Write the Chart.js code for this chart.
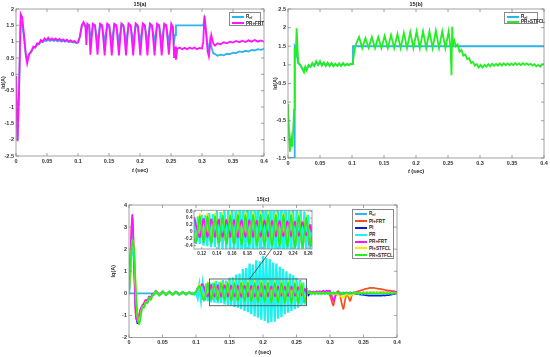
<!DOCTYPE html>
<html>
<head>
<meta charset="utf-8">
<script src="https://cdn.jsdelivr.net/npm/chart.js@4.4.1/dist/chart.umd.min.js"></script>
<style>
  html, body { margin: 0; padding: 0; background: #fff; }
  body { position: relative; width: 550px; height: 357px; overflow: hidden; font-family: "Liberation Sans", Arial, sans-serif; }
  canvas { position: absolute; }
  .txt { position: absolute; transform: translate(-50%, -50%); font-size: 5.5px; font-weight: bold; color: #222; white-space: nowrap; }
  .leg { position: absolute; background: #fff; border: 0.8px solid #8a8a8a; box-sizing: border-box; font-size: 4.6px; font-weight: bold; color: #222; padding-top: 1px; }
  .leg .row { display: flex; align-items: center; white-space: nowrap; }
  .leg .ln { display: inline-block; width: 12px; height: 2px; margin: 0 2px; flex: none; }
  .leg sub { font-size: 3.4px; vertical-align: -1px; }
</style>
</head>
<body>
<canvas id="chartA" width="272" height="178" style="left:0;top:0"></canvas>
<canvas id="chartB" width="278" height="178" style="left:272px;top:0"></canvas>
<canvas id="chartC" width="300" height="167" style="left:110px;top:190px"></canvas>
<canvas id="chartInset" width="140" height="54" style="left:176px;top:206px"></canvas>

<div class="txt" style="left:140px;top:4px">15(a)</div>
<div class="txt" style="left:416px;top:4px">15(b)</div>
<div class="txt" style="left:263px;top:199px">15(c)</div>
<div class="txt" style="left:140px;top:170px"><i>t</i> (sec)</div>
<div class="txt" style="left:416px;top:171px"><i>t</i> (sec)</div>
<div class="txt" style="left:263px;top:352px"><i>t</i> (sec)</div>

<div class="leg" id="legA" style="left:229px;top:12px;width:32px;height:14px"></div>
<div class="leg" id="legB" style="left:504px;top:12px;width:34px;height:12px"></div>
<div class="leg" id="legC" style="left:352px;top:209px;width:42px;height:50px"></div>

<script>
// ---- 15(a): PR+FRT against reference ----
const aTime = [
  0,0.0025,0.005,0.0075,0.01,0.013,0.016,0.018,0.021,0.025,
  0.028,0.031,0.034,0.037,0.04,0.043,0.046,0.049,0.052,0.055,
  0.058,0.061,0.064,0.067,0.07,0.073,0.076,0.079,0.082,0.085,
  0.088,0.091,0.094,0.097,0.1,0.103,0.106,0.109,0.112,0.1135,
  0.115,0.118,0.12,0.124,0.1275,0.1315,0.1355,0.139,0.143,0.147,
  0.1505,0.1545,0.1585,0.162,0.166,0.17,0.1735,0.1775,0.1815,0.185,
  0.189,0.193,0.1965,0.2005,0.2045,0.208,0.212,0.216,0.2195,0.2235,
  0.2275,0.231,0.235,0.239,0.2425,0.2465,0.2505,0.253,0.255,0.2565,
  0.258,0.26,0.264,0.268,0.272,0.276,0.28,0.284,0.288,0.292,
  0.296,0.3,0.302,0.304,0.3065,0.309,0.311,0.313,0.315,0.318,
  0.321,0.325,0.33,0.335,0.34,0.345,0.35,0.355,0.36,0.365,
  0.37,0.375,0.38,0.385,0.39,0.395,0.4
];
const aPrFrt = [
  -0.05,-2.05,-0.4,1.85,1.75,1.2,0.55,0.33,0.6,0.72,
  0.85,0.82,0.95,0.93,1.05,1.0,1.1,1.05,1.12,1.05,
  1.1,1.05,1.1,1.04,1.09,1.03,1.07,1.02,1.06,1.01,
  1.04,1.0,1.02,0.97,0.98,1.15,1.5,1.6,1.45,0.9,
  1.55,1.5,0.6,1.55,1.5,0.6,1.55,1.5,0.58,1.55,
  1.5,0.58,1.55,1.5,0.58,1.56,1.5,0.58,1.56,1.5,
  0.58,1.56,1.5,0.58,1.56,1.5,0.58,1.56,1.5,0.58,
  1.55,1.5,0.58,1.55,1.5,0.6,1.55,1.45,0.5,0.85,
  0.45,0.78,0.82,0.77,0.81,0.77,0.82,0.78,0.82,0.77,
  0.81,0.79,1.0,1.8,1.3,0.7,0.55,0.9,1.2,0.95,
  0.88,0.95,0.92,0.98,0.95,1.0,0.97,1.02,0.98,1.03,
  0.99,1.04,1.0,1.05,1.0,1.04,1.0
];
const aRef = [
  -0.05,-2.0,-0.5,1.6,1.55,1.1,0.6,0.5,0.62,0.7,
  0.8,0.82,0.9,0.92,1.0,0.98,1.04,1.02,1.06,1.02,
  1.05,1.02,1.05,1.01,1.05,1.0,1.03,1.0,1.02,0.99,
  1.0,0.98,0.99,0.96,0.97,1.15,1.45,1.55,1.5,1.3,
  1.5,1.5,1.05,1.5,1.45,1.0,1.5,1.45,1.0,1.5,
  1.45,1.0,1.5,1.45,1.0,1.5,1.45,1.0,1.5,1.45,
  1.0,1.5,1.45,1.0,1.5,1.45,1.0,1.5,1.45,1.0,
  1.5,1.45,1.0,1.5,1.45,1.0,1.5,1.45,1.0,1.2,
  1.5,1.5,1.5,1.5,1.5,1.5,1.5,1.5,1.5,1.5,
  1.5,1.5,1.5,1.7,1.3,0.9,0.7,1.05,0.85,0.65,
  0.62,0.57,0.6,0.58,0.63,0.62,0.66,0.65,0.7,0.68,
  0.72,0.7,0.75,0.73,0.77,0.75,0.78
];

// ---- 15(b): PR+STFCL against reference ----
const bTime = [
  0,0.002,0.003,0.005,0.007,0.0095,0.0105,0.012,0.0135,0.016,
  0.019,0.022,0.025,0.027,0.029,0.032,0.035,0.038,0.041,0.044,
  0.047,0.05,0.053,0.056,0.059,0.062,0.065,0.068,0.071,0.074,
  0.077,0.08,0.083,0.086,0.089,0.092,0.095,0.098,0.1,0.1015,
  0.105,0.111,0.116,0.121,0.126,0.131,0.136,0.141,0.146,0.151,
  0.156,0.161,0.166,0.171,0.176,0.181,0.186,0.191,0.196,0.201,
  0.206,0.211,0.216,0.221,0.226,0.231,0.236,0.241,0.246,0.251,
  0.254,0.2555,0.2565,0.258,0.26,0.262,0.265,0.268,0.271,0.274,
  0.277,0.28,0.283,0.286,0.289,0.292,0.295,0.298,0.301,0.304,
  0.307,0.31,0.313,0.316,0.319,0.322,0.325,0.328,0.331,0.334,
  0.337,0.34,0.343,0.346,0.349,0.352,0.355,0.358,0.361,0.364,
  0.367,0.37,0.373,0.376,0.379,0.382,0.385,0.388,0.391,0.394,
  0.397,0.4
];
const bPrStfcl = [
  -0.05,-1.0,-1.33,-0.95,-1.2,-0.2,1.45,1.2,1.98,1.05,
  1.0,0.9,0.8,0.95,0.85,1.0,0.95,1.05,0.97,1.1,
  1.0,1.1,0.98,1.07,0.97,1.06,0.97,1.05,0.96,1.03,
  0.97,1.04,0.97,1.05,0.98,1.03,0.99,1.03,1.02,1.1,
  1.5,1.75,1.45,1.72,1.46,1.75,1.45,1.75,1.45,1.78,
  1.45,1.8,1.45,1.83,1.45,1.86,1.45,1.88,1.45,1.9,
  1.45,1.9,1.45,1.9,1.45,1.92,1.45,1.9,1.45,1.9,
  1.45,0.72,2.02,1.55,1.65,1.5,1.55,1.35,1.4,1.25,
  1.28,1.15,1.18,1.05,1.08,0.98,1.02,0.93,1.0,0.93,
  1.0,0.95,1.02,0.96,1.03,0.97,1.03,0.98,1.04,0.98,
  1.04,0.99,1.04,0.99,1.04,0.99,1.05,1.0,1.04,0.99,
  1.05,1.0,1.04,1.0,1.03,0.98,1.02,0.96,1.0,0.95,
  1.02,1.02
];
const bRefTime = [
  0,0.0095,0.0105,0.012,0.0135,0.016,0.019,0.022,0.025,0.027,
  0.029,0.032,0.035,0.038,0.041,0.044,0.047,0.05,0.053,0.056,
  0.059,0.062,0.065,0.068,0.071,0.074,0.077,0.08,0.083,0.086,
  0.089,0.092,0.095,0.098,0.1,0.1015,0.4
];
const bRef = [
  -1.5,-1.5,1.5,1.45,1.3,1.05,1.0,0.92,0.85,0.93,
  0.88,0.98,0.95,1.02,0.98,1.07,1.0,1.07,1.0,1.05,
  0.98,1.04,0.98,1.03,0.98,1.02,0.98,1.02,0.98,1.03,
  0.99,1.02,1.0,1.02,1.02,1.5,1.5
];

// ---- 15(c): all controllers, sampled every 2.5 ms ----
const tC = [
  0,0.0025,0.005,0.0075,0.01,0.0125,0.015,0.0175,0.02,0.0225,0.025,0.0275,0.03,0.0325,0.035,0.0375,0.04,0.0425,0.045,0.0475,
  0.05,0.0525,0.055,0.0575,0.06,0.0625,0.065,0.0675,0.07,0.0725,0.075,0.0775,0.08,0.0825,0.085,0.0875,0.09,0.0925,0.095,0.0975,
  0.1,0.1025,0.105,0.1075,0.11,0.1125,0.115,0.1175,0.12,0.1225,0.125,0.1275,0.13,0.1325,0.135,0.1375,0.14,0.1425,0.145,0.1475,
  0.15,0.1525,0.155,0.1575,0.16,0.1625,0.165,0.1675,0.17,0.1725,0.175,0.1775,0.18,0.1825,0.185,0.1875,0.19,0.1925,0.195,0.1975,
  0.2,0.2025,0.205,0.2075,0.21,0.2125,0.215,0.2175,0.22,0.2225,0.225,0.2275,0.23,0.2325,0.235,0.2375,0.24,0.2425,0.245,0.2475,
  0.25,0.2525,0.255,0.2575,0.26,0.2625,0.265,0.2675,0.27,0.2725,0.275,0.2775,0.28,0.2825,0.285,0.2875,0.29,0.2925,0.295,0.2975,
  0.3,0.3025,0.305,0.3075,0.31,0.3125,0.315,0.3175,0.32,0.3225,0.325,0.3275,0.33,0.3325,0.335,0.3375,0.34,0.3425,0.345,0.3475,
  0.35,0.3525,0.355,0.3575,0.36,0.3625,0.365,0.3675,0.37,0.3725,0.375,0.3775,0.38,0.3825,0.385,0.3875,0.39,0.3925,0.395,0.3975,
  0.4
];
const cRefTime = [0, 0.4];
const cRef = [0, 0];
const cPiFrt = [
  0,1.9,3.4,1.4,-0.9,-1.25,-1.0,-0.7,-0.55,-0.45,-0.3,-0.35,-0.15,-0.2,-0.05,-0.03,0.1,0.02,-0.07,-0.02,
  0.08,0.02,-0.06,0.0,0.07,0.02,-0.05,0.0,0.06,0.02,-0.05,0.0,0.05,0.02,-0.04,0.0,0.05,0.01,-0.03,0.01,
  0.06,0.24,0.28,0.33,0.4,0.18,0.0,-0.14,0.1,0.36,0.14,-0.14,0.1,0.35,0.12,-0.14,0.1,0.35,0.12,-0.14,
  0.1,0.34,0.12,-0.14,0.1,0.34,0.12,-0.15,0.1,0.33,0.12,-0.14,0.1,0.33,0.12,-0.14,0.1,0.32,0.11,-0.13,
  0.1,0.32,0.11,-0.13,0.1,0.31,0.11,-0.13,0.1,0.31,0.11,-0.12,0.09,0.3,0.1,-0.12,0.09,0.29,0.1,-0.11,
  0.09,0.27,0.1,-0.1,0.05,0.18,0.0,0.05,0.1,0.02,0.08,0.0,0.06,0.0,0.05,-0.02,0.04,0.0,0.03,0.0,
  -0.1,-0.35,-0.55,-0.2,0.05,0.1,-0.1,-0.45,-0.7,-0.3,-0.05,-0.15,-0.35,-0.1,0.02,0.05,0.08,0.1,0.12,0.15,
  0.17,0.2,0.21,0.23,0.25,0.24,0.25,0.23,0.22,0.2,0.2,0.18,0.17,0.15,0.14,0.12,0.12,0.1,0.1,0.08,
  0.07
];
const cPi = [
  0,1.3,2.3,1.6,-0.6,-1.35,-1.1,-0.8,-0.6,-0.5,-0.35,-0.35,-0.18,-0.2,-0.05,-0.04,0.09,0.01,-0.08,-0.02,
  0.08,0.01,-0.07,0.0,0.07,0.01,-0.06,0.0,0.06,0.01,-0.05,0.0,0.05,0.0,-0.05,0.0,0.05,0.0,-0.04,0.0,
  0.05,0.2,0.33,0.1,-0.2,-0.32,0.05,0.44,0.08,-0.32,0.05,0.44,0.07,-0.34,0.05,0.45,0.07,-0.35,0.05,0.46,
  0.07,-0.36,0.05,0.47,0.07,-0.37,0.05,0.48,0.07,-0.38,0.05,0.48,0.06,-0.4,0.05,0.48,0.06,-0.41,0.05,0.48,
  0.06,-0.42,0.05,0.48,0.05,-0.43,0.04,0.48,0.05,-0.44,0.04,0.48,0.04,-0.45,0.03,0.48,0.04,-0.46,0.03,0.46,
  0.03,-0.47,0.0,0.45,-0.1,-0.45,0.2,-0.1,0.03,-0.02,0.03,-0.02,0.02,-0.02,0.02,-0.02,0.02,-0.02,0.02,-0.02,
  0.02,-0.02,0.01,-0.02,0.01,-0.02,0.01,-0.02,0.01,-0.02,0.0,-0.02,0.0,-0.02,0.0,-0.03,-0.03,-0.04,-0.05,-0.06,
  -0.07,-0.08,-0.09,-0.1,-0.1,-0.11,-0.1,-0.11,-0.1,-0.11,-0.1,-0.1,-0.09,-0.1,-0.08,-0.08,-0.06,-0.05,-0.03,-0.02,
  0.0
];
const cPr = [
  0,1.3,2.3,1.7,-0.3,-1.2,-1.2,-0.9,-0.6,-0.55,-0.35,-0.4,-0.2,-0.25,-0.08,-0.05,0.1,0.0,-0.09,-0.02,
  0.09,0.01,-0.07,0.0,0.08,0.01,-0.06,0.0,0.07,0.01,-0.06,0.0,0.06,0.0,-0.05,0.0,0.06,-0.02,0.02,-0.05,
  0.08,-0.2,0.35,-0.3,0.4,-0.35,0.45,-0.35,0.5,-0.4,0.48,-0.42,0.55,-0.45,0.52,-0.45,0.6,-0.5,0.58,-0.52,
  0.7,-0.55,0.72,-0.62,0.85,-0.65,0.9,-0.72,1.1,-0.8,1.15,-0.85,1.35,-0.95,1.3,-1.05,1.5,-1.1,1.45,-1.2,
  1.7,-1.25,1.6,-1.35,1.55,-1.3,1.4,-1.28,1.35,-1.15,1.2,-1.08,1.1,-0.95,1.0,-0.88,0.9,-0.8,0.82,-0.72,
  0.7,-0.65,0.6,-0.55,0.5,-0.5,0.2,0.05,0.06,-0.03,0.05,-0.03,0.05,-0.02,0.04,-0.03,0.04,-0.02,0.04,-0.02,
  0.03,-0.02,0.03,-0.02,0.03,-0.02,0.03,-0.02,0.03,-0.02,0.03,-0.02,0.03,-0.02,0.03,-0.02,0.02,-0.02,0.02,-0.01,
  0.02,-0.01,0.02,-0.01,0.02,-0.01,0.02,-0.01,0.02,-0.01,0.02,-0.01,0.02,-0.01,0.02,-0.01,0.02,-0.01,0.02,0.0,
  0.01
];
const cPrFrt = [
  0,2.0,3.55,1.5,-0.9,-1.25,-1.0,-0.7,-0.55,-0.45,-0.3,-0.35,-0.15,-0.2,-0.05,-0.03,0.1,0.02,-0.07,-0.02,
  0.08,0.02,-0.06,0.0,0.07,0.02,-0.05,0.0,0.06,0.02,-0.05,0.0,0.05,0.02,-0.04,0.0,0.05,0.01,-0.03,0.01,
  0.06,0.25,0.3,0.35,0.42,0.2,0.0,-0.15,0.1,0.38,0.15,-0.15,0.1,0.37,0.12,-0.15,0.1,0.36,0.12,-0.15,
  0.1,0.35,0.12,-0.15,0.1,0.35,0.12,-0.16,0.1,0.34,0.12,-0.15,0.1,0.34,0.12,-0.15,0.1,0.33,0.11,-0.14,
  0.1,0.33,0.11,-0.14,0.1,0.32,0.11,-0.14,0.1,0.32,0.11,-0.13,0.09,0.31,0.1,-0.13,0.09,0.3,0.1,-0.12,
  0.09,0.28,0.1,-0.1,0.05,0.2,0.0,0.05,0.08,0.03,0.08,0.04,0.1,0.05,0.1,0.05,0.12,0.08,0.12,0.1,
  0.12,-0.1,-0.35,-0.15,0.0,0.03,0.0,-0.05,0.0,0.02,0.03,0.0,0.03,0.01,0.03,0.01,0.03,0.02,0.03,0.02,
  0.04,0.02,0.04,0.03,0.04,0.03,0.05,0.03,0.05,0.03,0.05,0.04,0.05,0.04,0.05,0.04,0.05,0.04,0.05,0.04,
  0.05
];
const cPiStfcl = [
  0,1.4,2.4,2.0,0.2,-1.0,-1.35,-1.0,-0.6,-0.6,-0.4,-0.42,-0.2,-0.28,-0.1,-0.05,0.09,0.0,-0.09,-0.03,
  0.08,0.01,-0.07,-0.01,0.07,0.01,-0.06,0.0,0.06,0.01,-0.05,0.0,0.05,0.01,-0.05,0.0,0.05,0.0,-0.04,0.0,
  0.05,0.22,0.4,0.1,-0.18,-0.28,0.05,0.52,0.08,-0.28,0.05,0.53,0.07,-0.3,0.05,0.54,0.07,-0.31,0.05,0.55,
  0.07,-0.33,0.05,0.56,0.07,-0.34,0.05,0.57,0.07,-0.35,0.05,0.58,0.06,-0.36,0.05,0.58,0.06,-0.37,0.05,0.58,
  0.06,-0.38,0.05,0.58,0.05,-0.4,0.04,0.58,0.05,-0.4,0.04,0.57,0.04,-0.42,0.03,0.57,0.04,-0.43,0.03,0.55,
  0.03,-0.43,0.0,0.5,0.0,-0.38,-0.1,0.03,0.04,-0.02,0.03,-0.03,0.04,-0.02,0.03,-0.03,0.03,-0.02,0.02,-0.02,
  0.02,-0.03,0.0,-0.05,-0.02,-0.08,-0.15,-0.1,-0.2,-0.1,-0.05,-0.08,-0.15,-0.06,-0.02,0.0,0.02,0.01,0.03,0.02,
  0.03,0.04,0.04,0.05,0.05,0.05,0.05,0.04,0.05,0.04,0.04,0.03,0.04,0.03,0.03,0.02,0.03,0.02,0.02,0.02,
  0.02
];
const cPrStfcl = [
  0,1.4,2.4,2.0,0.3,-1.0,-1.4,-1.05,-0.6,-0.65,-0.4,-0.45,-0.2,-0.3,-0.1,-0.05,0.1,0.0,-0.1,-0.03,
  0.09,0.01,-0.08,-0.01,0.08,0.01,-0.07,0.0,0.07,0.01,-0.06,0.0,0.06,0.01,-0.05,0.0,0.05,0.0,-0.05,0.0,
  0.05,0.2,0.35,0.1,-0.2,-0.3,0.05,0.45,0.08,-0.3,0.05,0.45,0.07,-0.32,0.05,0.46,0.07,-0.33,0.05,0.47,
  0.07,-0.35,0.05,0.48,0.07,-0.36,0.05,0.5,0.07,-0.37,0.05,0.5,0.06,-0.38,0.05,0.5,0.06,-0.4,0.05,0.5,
  0.06,-0.4,0.05,0.5,0.05,-0.42,0.04,0.5,0.05,-0.42,0.04,0.5,0.04,-0.44,0.03,0.5,0.04,-0.45,0.03,0.47,
  0.03,-0.45,0.0,0.42,0.0,-0.4,-0.1,0.05,0.06,-0.02,0.04,-0.03,0.05,-0.02,0.04,-0.03,0.04,-0.02,0.03,-0.02,
  0.04,-0.02,0.03,-0.03,0.04,-0.02,0.03,-0.03,0.03,-0.02,0.03,-0.02,0.03,-0.02,0.03,-0.02,0.03,-0.01,0.03,-0.01,
  0.03,-0.01,0.03,-0.01,0.03,-0.02,0.03,-0.01,0.02,-0.01,0.03,-0.01,0.02,-0.01,0.02,-0.01,0.02,-0.01,0.02,0.0,
  0.01
];
const cNames = ['Ref', 'PI+FRT', 'PI', 'PR', 'PR+FRT', 'PI+STFCL', 'PR+STFCL'];

// zoom window drawn on 15(c) and its leader line to the inset
const zoomT = [0.12, 0.265];
const zoomI = [-0.56, 0.65];
const linkT = [0.18, 0.213];
const linkI = [0.65, 2.0];
const insetTicksX = [0.12, 0.14, 0.16, 0.18, 0.2, 0.22, 0.24, 0.26];
const insetTicksY = [-0.4, -0.2, 0, 0.2, 0.4, 0.6];

// colours
const REF = '#2db4ea';
const cColors = [REF, '#f4511e', '#1414e6', '#1ef0f0', '#ff14ff', '#f0f000', '#22ee22'];

const fmt = v => String(Math.round(v * 1000) / 1000);
const tickFont = { family: 'Liberation Sans', size: 5.5, weight: 'bold' };

function pts(t, v) {
    return t.map((x, i) => ({ x: x, y: v[i] }));
}

// box round the plot area, with inward tick marks on all four sides
const frame = {
    id: 'frame',
    beforeDraw(chart, args, opts) {
        if (!opts.fill) return;
        const a = chart.chartArea;
        chart.ctx.save();
        chart.ctx.fillStyle = '#fff';
        chart.ctx.fillRect(a.left, a.top, a.right - a.left, a.bottom - a.top);
        chart.ctx.restore();
    },
    afterDatasetsDraw(chart, args, opts) {
        const { ctx, chartArea: a, scales } = chart;
        const len = opts.len || 3;
        ctx.save();
        ctx.strokeStyle = '#8a8a8a';
        ctx.lineWidth = 0.8;
        ctx.strokeRect(a.left, a.top, a.right - a.left, a.bottom - a.top);
        ctx.beginPath();
        scales.x.ticks.forEach(tk => {
            const px = scales.x.getPixelForValue(tk.value);
            ctx.moveTo(px, a.bottom); ctx.lineTo(px, a.bottom - len);
            ctx.moveTo(px, a.top); ctx.lineTo(px, a.top + len);
        });
        scales.y.ticks.forEach(tk => {
            const py = scales.y.getPixelForValue(tk.value);
            ctx.moveTo(a.left, py); ctx.lineTo(a.left + len, py);
            ctx.moveTo(a.right, py); ctx.lineTo(a.right - len, py);
        });
        ctx.stroke();
        ctx.restore();
    }
};

// rectangle marking the zoomed window, plus the line to the inset
const zoomBox = {
    id: 'zoomBox',
    afterDatasetsDraw(chart) {
        const { ctx, scales } = chart;
        const x0 = scales.x.getPixelForValue(zoomT[0]);
        const x1 = scales.x.getPixelForValue(zoomT[1]);
        const y0 = scales.y.getPixelForValue(zoomI[1]);
        const y1 = scales.y.getPixelForValue(zoomI[0]);
        ctx.save();
        ctx.strokeStyle = '#555';
        ctx.lineWidth = 0.9;
        ctx.strokeRect(x0, y0, x1 - x0, y1 - y0);
        ctx.strokeStyle = '#222';
        ctx.lineWidth = 0.7;
        ctx.beginPath();
        ctx.moveTo(scales.x.getPixelForValue(linkT[0]), scales.y.getPixelForValue(linkI[0]));
        ctx.lineTo(scales.x.getPixelForValue(linkT[1]), scales.y.getPixelForValue(linkI[1]));
        ctx.stroke();
        ctx.restore();
    }
};

function axis(min, max, step, fitKey, fitSize, font) {
    const a = {
        type: 'linear',
        min: min,
        max: max,
        grid: { display: false, drawTicks: false },
        border: { display: false },
        ticks: { stepSize: step, autoSkip: false, maxRotation: 0, padding: 2, color: '#333', font: font || tickFont, callback: fmt },
        afterFit: s => { s[fitKey] = fitSize; }
    };
    return a;
}

function yTitle(text) {
    return { display: true, text: text, color: '#333', font: { family: 'Liberation Sans', size: 5.5, weight: 'bold' }, padding: { top: 0, bottom: 1 } };
}

function line(label, data, color, width, tension) {
    return { label: label, data: data, borderColor: color, borderWidth: width, pointRadius: 0, tension: tension || 0, fill: false };
}

function baseOptions(padding, scales, frameLen, fill) {
    return {
        responsive: false,
        animation: false,
        devicePixelRatio: 1,
        layout: { padding: padding },
        events: [],
        scales: scales,
        plugins: { legend: { display: false }, tooltip: { enabled: false }, frame: { len: frameLen, fill: fill } }
    };
}

// 15(a)
const yA = axis(-2.5, 2, 0.5, 'width', 16);
yA.title = yTitle('Id(A)');
new Chart(document.getElementById('chartA'), {
    type: 'line',
    data: { datasets: [
        line('PR+FRT', pts(aTime, aPrFrt), '#ff14ff', 1.8),
        line('Ref', pts(aTime, aRef), REF, 1.8)
    ] },
    options: baseOptions({ top: 9, right: 8, left: 0, bottom: 0 },
        { x: axis(0, 0.4, 0.05, 'height', 22), y: yA }, 3),
    plugins: [frame]
});

// 15(b)
const yB = axis(-1.5, 2.5, 0.5, 'width', 16);
yB.title = yTitle('Id(A)');
new Chart(document.getElementById('chartB'), {
    type: 'line',
    data: { datasets: [
        line('PR+STFCL', pts(bTime, bPrStfcl), '#22ee22', 1.8),
        line('Ref', pts(bRefTime, bRef), REF, 1.8)
    ] },
    options: baseOptions({ top: 9, right: 6, left: 0, bottom: 0 },
        { x: axis(0, 0.4, 0.05, 'height', 20), y: yB }, 3),
    plugins: [frame]
});

// 15(c): green drawn last in MATLAB, so it goes first here (index 0 is on top)
const cValues = [cRef, cPiFrt, cPi, cPr, cPrFrt, cPiStfcl, cPrStfcl];
function cDatasets(width, prWidth) {
    return cNames.map((name, i) => {
        const t = i === 0 ? cRefTime : tC;
        return line(name, pts(t, cValues[i]), cColors[i], name === 'PR' ? prWidth : width, name === 'PR' ? 0 : 0.3);
    }).reverse();
}

const yC = axis(-2, 4, 1, 'width', 19);
yC.title = yTitle('Iq(A)');
new Chart(document.getElementById('chartC'), {
    type: 'line',
    data: { datasets: cDatasets(1.7, 2.3) },
    options: baseOptions({ top: 15, right: 13, left: 0, bottom: 0 },
        { x: axis(0, 0.4, 0.05, 'height', 19.5), y: yC }, 3),
    plugins: [frame, zoomBox]
});

// inset of 15(c)
const insetFont = { family: 'Liberation Sans', size: 4.6, weight: 'bold' };
const xI = axis(0.11, 0.265, 0.02, 'height', 11, insetFont);
xI.afterBuildTicks = s => { s.ticks = insetTicksX.map(v => ({ value: v })); };
xI.ticks.padding = 1.5;
const yI = axis(-0.5, 0.63, 0.2, 'width', 18, insetFont);
yI.afterBuildTicks = s => { s.ticks = insetTicksY.map(v => ({ value: v })); };
yI.ticks.padding = 1.5;
new Chart(document.getElementById('chartInset'), {
    type: 'line',
    data: { datasets: cDatasets(1.8, 2.2) },
    options: baseOptions({ top: 4, right: 4, left: 0, bottom: 0 }, { x: xI, y: yI }, 2, true),
    plugins: [frame]
});

// legends inside the axes boxes
function legend(id, names, colors, rowH) {
    const box = document.getElementById(id);
    names.forEach((name, i) => {
        const row = document.createElement('div');
        row.className = 'row';
        row.style.height = rowH + 'px';
        const ln = document.createElement('span');
        ln.className = 'ln';
        ln.style.background = colors[i];
        const tx = document.createElement('span');
        tx.innerHTML = name === 'Ref' ? 'R<sub>ef</sub>' : name;
        row.appendChild(ln);
        row.appendChild(tx);
        box.appendChild(row);
    });
}
legend('legA', ['Ref', 'PR+FRT'], [REF, '#ff14ff'], 6);
legend('legB', ['Ref', 'PR+STFCL'], [REF, '#22ee22'], 5);
legend('legC', cNames, cColors, 6.8);
</script>
</body>
</html>
